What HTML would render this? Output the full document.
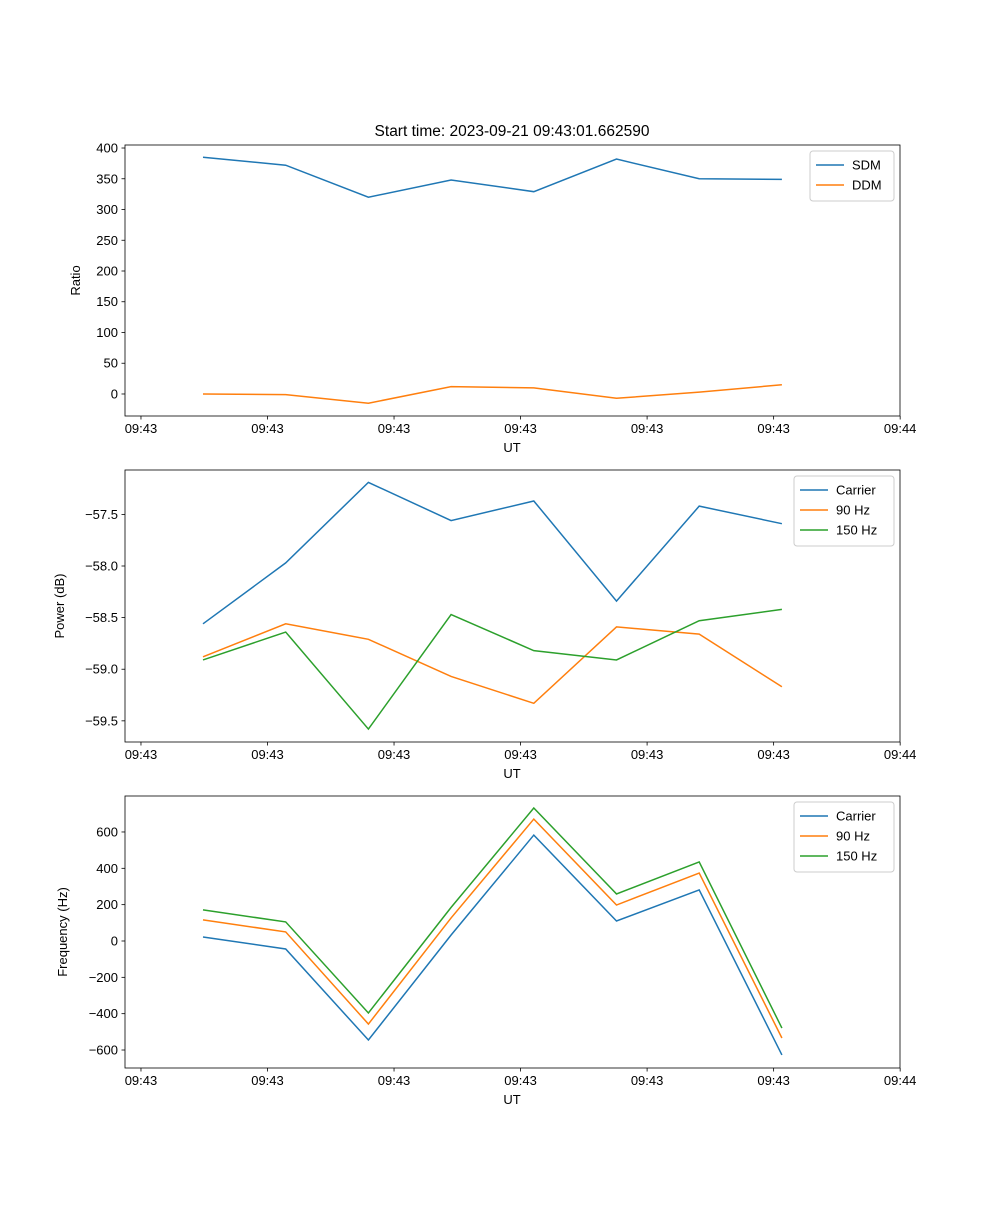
<!DOCTYPE html>
<html><head><meta charset="utf-8"><style>
body{margin:0;background:#fff}
svg text{font-family:"Liberation Sans","DejaVu Sans",sans-serif;font-size:13px;fill:#000}
</style></head><body>
<svg id="c" width="1000" height="1200" xmlns="http://www.w3.org/2000/svg">
<text x="512" y="136" text-anchor="middle" style="font-size:15.5px">Start time: 2023-09-21 09:43:01.662590</text>
</svg>
<script>
const xTickLabels = ["09:43","09:43","09:43","09:43","09:43","09:43","09:44"];
const sdm = [385,372,320,348,329,382,350,349];
const ddm = [0,-1,-15,12,10,-7,3,15];
const powCarrier = [-58.56,-57.97,-57.19,-57.56,-57.37,-58.34,-57.42,-57.59];
const pow90 = [-58.88,-58.56,-58.71,-59.07,-59.33,-58.59,-58.66,-59.17];
const pow150 = [-58.91,-58.64,-59.58,-58.47,-58.82,-58.91,-58.53,-58.42];
const freqCarrier = [22,-44,-545,33,583,110,281,-627];
const freq90 = [116,50,-457,127,671,198,374,-534];
const freq150 = [171,105,-396,185,732,259,435,-479];
const ratioTicks = [0,50,100,150,200,250,300,350,400];
const powTicks = [-59.5,-59.0,-58.5,-58.0,-57.5];
const freqTicks = [-600,-400,-200,0,200,400,600];

const NS="http://www.w3.org/2000/svg", svg=document.getElementById('c');
const C=['#1f77b4','#ff7f0e','#2ca02c'];
function el(t,a,p){const e=document.createElementNS(NS,t);for(const k in a)e.setAttribute(k,a[k]);(p||svg).appendChild(e);return e;}
const L=125,R=900;
function xs(i){return 203+i*82.7;}
function panel(name,top,bot,ymin,ymax,yticks,fmt,ylabel,series,names,legendW){
  const g=el('g',{});
  
  
  const ys=v=>bot-(v-ymin)/(ymax-ymin)*(bot-top);
  series.forEach((s,k)=>{
    const p=el('polyline',{points:s.map((v,i)=>xs(i)+','+ys(v)).join(' '),fill:'none',stroke:C[k],'stroke-width':1.5},g);
    
    
  });
  el('rect',{x:L,y:top,width:R-L,height:bot-top,fill:'none',stroke:'#000','stroke-width':0.8},g);
  xTickLabels.forEach((lab,k)=>{
    const x=xs(-0.75+k*1.53);
    el('line',{x1:x,x2:x,y1:bot,y2:bot+3.5,stroke:'#000','stroke-width':0.8},g);
    const t=el('text',{x:x,y:bot+17,'text-anchor':'middle'},g);t.textContent=lab;
    
    
  });
  yticks.forEach(v=>{
    const y=ys(v);
    el('line',{x1:L-3.5,x2:L,y1:y,y2:y,stroke:'#000','stroke-width':0.8},g);
    const t=el('text',{x:L-7,y:y+4.5,'text-anchor':'end'},g);t.textContent=fmt(v);
    
    
  });
  const xl=el('text',{x:512,y:bot+36,'text-anchor':'middle'},g);xl.textContent='UT';
  
  
  const yl=el('text',{x:0,y:0,'text-anchor':'middle',transform:`translate(${ylabel[1]},${(top+bot)/2}) rotate(-90)`},g);yl.textContent=ylabel[0];
  
  
  const lx=R-6-legendW, ly=top+6, h=10+names.length*20;
  const lg=el('g',{},g);
  
  
  el('rect',{x:lx,y:ly,width:legendW,height:h,rx:3,fill:'#fff',stroke:'#ccc','stroke-width':1},lg);
  names.forEach((n,k)=>{
    const yy=ly+14+k*20;
    el('line',{x1:lx+6,x2:lx+34,y1:yy,y2:yy,stroke:C[k],'stroke-width':1.5},lg);
    const t=el('text',{x:lx+42,y:yy+4.5},lg);t.textContent=n;
    
    
  });
}
panel('ratio',145,416,-35.8,404.9,ratioTicks,v=>v.toString().replace('-','\u2212'),['Ratio',80],[sdm,ddm],['SDM','DDM'],84);
panel('power',470,742,-59.705,-57.07,powTicks,v=>v.toFixed(1).replace('-','\u2212'),['Power (dB)',64],[powCarrier,pow90,pow150],['Carrier','90 Hz','150 Hz'],100);
panel('frequency',796,1068,-699,798,freqTicks,v=>v.toString().replace('-','\u2212'),['Frequency (Hz)',67],[freqCarrier,freq90,freq150],['Carrier','90 Hz','150 Hz'],100);
</script>
</body></html>
